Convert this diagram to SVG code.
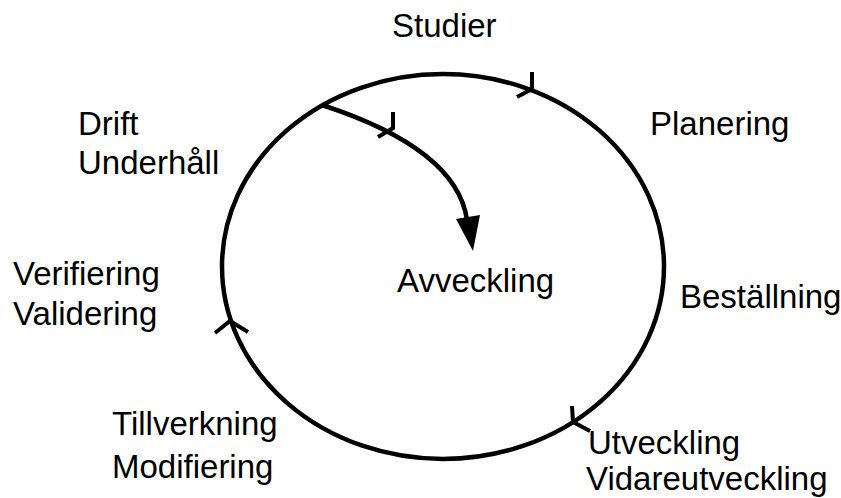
<svg xmlns="http://www.w3.org/2000/svg" width="841" height="498" viewBox="0 0 841 498">
<style>
text { font-family: "Liberation Sans", Arial, sans-serif; font-size: 33px; fill: #000; }
.ln { fill: none; stroke: #000; stroke-width: 4.5; stroke-linecap: butt; stroke-linejoin: miter; }
.tk { fill: none; stroke: #000; stroke-width: 4; }
</style>
<g id="connectors">
  <ellipse class="ln" cx="443" cy="266.5" rx="221" ry="192.5"/>
  <path class="ln" d="M322,105 Q457,149 467,220"/>
  <path d="M473,251 L456,219 L480,215 Z" fill="#000"/>
  <path class="tk" d="M532,72 L532,89 L517,97"/>
  <path class="tk" d="M393,112 L393,128 L378,137"/>
  <path class="tk" d="M215,333 L230,321 L248,332"/>
  <path class="tk" d="M572,406 L573,422 L590,431"/>
</g>
<g id="studier"><text x="392" y="37">Studier</text></g>
<g id="planering"><text x="650" y="135">Planering</text></g>
<g id="bestallning"><text x="680" y="308">Beställning</text></g>
<g id="utveckling"><text x="588" y="454">Utveckling</text><text x="586" y="490">Vidareutveckling</text></g>
<g id="tillverkning"><text x="112" y="435">Tillverkning</text><text x="112" y="478">Modifiering</text></g>
<g id="verifiering"><text x="13" y="285">Verifiering</text><text x="13" y="325">Validering</text></g>
<g id="drift"><text x="78" y="135">Drift</text><text x="78" y="174">Underhåll</text></g>
<g id="avveckling"><text x="397" y="292">Avveckling</text></g>
</svg>
